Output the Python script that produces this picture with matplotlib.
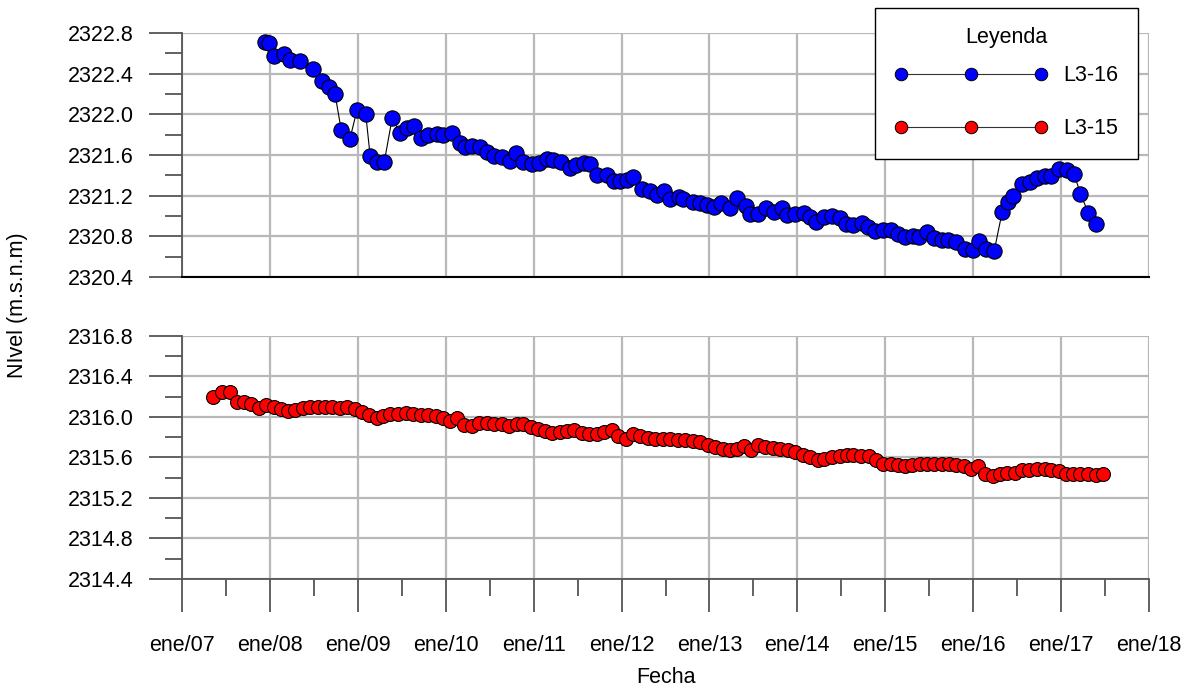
import matplotlib
matplotlib.use("Agg")
import matplotlib.pyplot as plt
from matplotlib.lines import Line2D
from matplotlib.ticker import MultipleLocator, FixedLocator

plt.rcParams['font.family'] = ['Liberation Sans', 'DejaVu Sans']

# Piezometro L3-16 (fecha en anos decimales, nivel en m.s.n.m)
fecha_l316 = [2007.94, 2007.99, 2008.05, 2008.16, 2008.23, 2008.34, 2008.49, 2008.59, 2008.67, 2008.74,
              2008.81, 2008.91, 2008.99, 2009.09, 2009.14, 2009.22, 2009.30, 2009.39, 2009.48, 2009.56,
              2009.64, 2009.72, 2009.80, 2009.90, 2009.97, 2010.07, 2010.16, 2010.22, 2010.30, 2010.39,
              2010.47, 2010.55, 2010.64, 2010.73, 2010.80, 2010.88, 2010.98, 2011.06, 2011.15, 2011.22,
              2011.31, 2011.41, 2011.48, 2011.57, 2011.64, 2011.72, 2011.83, 2011.91, 2011.98, 2012.06,
              2012.13, 2012.23, 2012.32, 2012.40, 2012.48, 2012.55, 2012.65, 2012.70, 2012.81, 2012.89,
              2012.97, 2013.05, 2013.13, 2013.23, 2013.31, 2013.41, 2013.46, 2013.55, 2013.64, 2013.73,
              2013.82, 2013.88, 2013.97, 2014.07, 2014.14, 2014.21, 2014.30, 2014.39, 2014.48, 2014.55,
              2014.63, 2014.73, 2014.80, 2014.88, 2014.97, 2015.07, 2015.15, 2015.23, 2015.32, 2015.38,
              2015.48, 2015.56, 2015.64, 2015.71, 2015.81, 2015.91, 2016.00, 2016.07, 2016.15, 2016.24,
              2016.33, 2016.40, 2016.45, 2016.56, 2016.65, 2016.73, 2016.82, 2016.89, 2016.98, 2017.07,
              2017.15, 2017.22, 2017.31, 2017.40]
nivel_l316 = [2322.71, 2322.70, 2322.57, 2322.59, 2322.53, 2322.52, 2322.45, 2322.33, 2322.27, 2322.20,
              2321.85, 2321.76, 2322.04, 2322.00, 2321.59, 2321.53, 2321.53, 2321.96, 2321.82, 2321.87,
              2321.89, 2321.77, 2321.80, 2321.81, 2321.80, 2321.82, 2321.72, 2321.68, 2321.69, 2321.68,
              2321.63, 2321.59, 2321.58, 2321.54, 2321.62, 2321.53, 2321.51, 2321.52, 2321.56, 2321.55,
              2321.53, 2321.47, 2321.50, 2321.52, 2321.51, 2321.40, 2321.40, 2321.34, 2321.34, 2321.35,
              2321.38, 2321.27, 2321.25, 2321.21, 2321.25, 2321.17, 2321.19, 2321.17, 2321.14, 2321.13,
              2321.11, 2321.09, 2321.13, 2321.08, 2321.18, 2321.10, 2321.02, 2321.02, 2321.08, 2321.04,
              2321.08, 2321.01, 2321.02, 2321.03, 2320.99, 2320.94, 2320.99, 2321.00, 2320.98, 2320.92,
              2320.91, 2320.93, 2320.89, 2320.85, 2320.86, 2320.86, 2320.82, 2320.79, 2320.80, 2320.79,
              2320.84, 2320.78, 2320.76, 2320.76, 2320.74, 2320.68, 2320.67, 2320.75, 2320.68, 2320.66,
              2321.04, 2321.14, 2321.20, 2321.31, 2321.33, 2321.37, 2321.39, 2321.39, 2321.46, 2321.45,
              2321.41, 2321.22, 2321.03, 2320.92]

# Piezometro L3-15
fecha_l315 = [2007.35, 2007.45, 2007.55, 2007.62, 2007.71, 2007.79, 2007.87, 2007.96, 2008.05, 2008.13,
              2008.21, 2008.29, 2008.38, 2008.46, 2008.55, 2008.63, 2008.71, 2008.80, 2008.88, 2008.97,
              2009.05, 2009.13, 2009.22, 2009.29, 2009.37, 2009.46, 2009.55, 2009.63, 2009.72, 2009.80,
              2009.89, 2009.97, 2010.05, 2010.13, 2010.21, 2010.30, 2010.38, 2010.47, 2010.55, 2010.64,
              2010.72, 2010.81, 2010.88, 2010.97, 2011.05, 2011.13, 2011.21, 2011.30, 2011.38, 2011.46,
              2011.55, 2011.63, 2011.72, 2011.80, 2011.89, 2011.96, 2012.05, 2012.13, 2012.21, 2012.30,
              2012.38, 2012.47, 2012.55, 2012.64, 2012.72, 2012.81, 2012.89, 2012.98, 2013.06, 2013.15,
              2013.23, 2013.31, 2013.39, 2013.47, 2013.55, 2013.63, 2013.72, 2013.80, 2013.89, 2013.97,
              2014.06, 2014.14, 2014.23, 2014.30, 2014.39, 2014.48, 2014.56, 2014.63, 2014.72, 2014.81,
              2014.89, 2014.97, 2015.06, 2015.15, 2015.23, 2015.30, 2015.39, 2015.47, 2015.56, 2015.64,
              2015.73, 2015.81, 2015.90, 2015.97, 2016.06, 2016.14, 2016.22, 2016.31, 2016.39, 2016.48,
              2016.55, 2016.64, 2016.73, 2016.82, 2016.89, 2016.98, 2017.06, 2017.14, 2017.22, 2017.31,
              2017.40, 2017.48]
nivel_l315 = [2316.20, 2316.25, 2316.25, 2316.15, 2316.15, 2316.13, 2316.09, 2316.12, 2316.10, 2316.08,
              2316.06, 2316.07, 2316.09, 2316.10, 2316.10, 2316.10, 2316.10, 2316.09, 2316.10, 2316.08,
              2316.05, 2316.02, 2315.99, 2316.01, 2316.03, 2316.03, 2316.04, 2316.03, 2316.02, 2316.02,
              2316.01, 2315.99, 2315.96, 2315.99, 2315.92, 2315.91, 2315.94, 2315.94, 2315.93, 2315.93,
              2315.91, 2315.93, 2315.93, 2315.90, 2315.88, 2315.86, 2315.84, 2315.85, 2315.86, 2315.87,
              2315.84, 2315.83, 2315.83, 2315.85, 2315.87, 2315.81, 2315.78, 2315.83, 2315.81, 2315.79,
              2315.78, 2315.78, 2315.78, 2315.77, 2315.77, 2315.76, 2315.75, 2315.72, 2315.70, 2315.68,
              2315.67, 2315.68, 2315.71, 2315.67, 2315.72, 2315.70, 2315.69, 2315.68, 2315.67, 2315.65,
              2315.62, 2315.60, 2315.58, 2315.59, 2315.60, 2315.61, 2315.62, 2315.62, 2315.61, 2315.61,
              2315.58, 2315.54, 2315.54, 2315.53, 2315.52, 2315.53, 2315.54, 2315.54, 2315.54, 2315.54,
              2315.54, 2315.53, 2315.52, 2315.49, 2315.52, 2315.44, 2315.42, 2315.44, 2315.45, 2315.45,
              2315.48, 2315.48, 2315.49, 2315.49, 2315.48, 2315.47, 2315.44, 2315.44, 2315.44, 2315.44,
              2315.43, 2315.44]

anios = list(range(2007, 2019))
etiquetas_x = ['ene/%02d' % (a % 100) for a in anios]

FS = 15.5
GRIS = '#555555'
GRID = '#b8b8b8'

fig = plt.figure(figsize=(11.93, 6.86), dpi=100)
ax1 = fig.add_axes([0.1526, 0.5962, 0.8105, 0.3557])
ax2 = fig.add_axes([0.1526, 0.1560, 0.8105, 0.3542])


def estilo(ax, ymin, ymax, abajo):
    ax.set_xlim(2007, 2018)
    ax.set_ylim(ymin, ymax)
    ax.yaxis.set_major_locator(MultipleLocator(0.4))
    ax.yaxis.set_minor_locator(MultipleLocator(0.2))
    ax.yaxis.set_major_formatter(plt.FormatStrFormatter('%.1f'))
    ax.xaxis.set_major_locator(FixedLocator(anios))
    ax.grid(True, which='major', color=GRID, lw=1.6, zorder=0)
    for s in ['top', 'right']:
        ax.spines[s].set_visible(False)
    ax.spines['left'].set_color(GRIS)
    ax.spines['left'].set_linewidth(1.3)
    ax.tick_params(axis='y', which='major', direction='out', length=24, width=1.3,
                   color=GRIS, labelsize=FS, pad=11)
    ax.tick_params(axis='y', which='minor', direction='out', length=12, width=1.3, color=GRIS)
    if abajo:
        ax.xaxis.set_minor_locator(FixedLocator([a + 0.5 for a in anios[:-1]]))
        ax.set_xticklabels(etiquetas_x)
        ax.spines['bottom'].set_color(GRIS)
        ax.spines['bottom'].set_linewidth(1.3)
        ax.tick_params(axis='x', which='major', direction='out', length=24, width=1.3,
                       color=GRIS, labelsize=FS, pad=16)
        ax.tick_params(axis='x', which='minor', direction='out', length=12, width=1.3, color=GRIS)
    else:
        ax.spines['bottom'].set_color('black')
        ax.spines['bottom'].set_linewidth(1.5)
        ax.tick_params(axis='x', which='both', length=0, labelbottom=False)


estilo(ax1, 2320.4, 2322.8, False)
estilo(ax2, 2314.4, 2316.8, True)

ax1.plot(fecha_l316, nivel_l316, '-', color='black', lw=0.8, marker='o', ms=11,
         mfc='#0000ff', mec='black', mew=0.8, zorder=3, clip_on=False)
ax2.plot(fecha_l315, nivel_l315, '-', color='black', lw=0.8, marker='o', ms=10,
         mfc='#ff0000', mec='black', mew=0.8, zorder=3, clip_on=False)

ax2.set_xlabel('Fecha', fontsize=FS, labelpad=8)
fig.text(0.015, 0.555, 'NIvel (m.s.n.m)', rotation=90, fontsize=FS, ha='center', va='center')

h1 = Line2D([], [], color='#333333', lw=0.8, marker='o', ms=9, mfc='#0000ff', mec='black', mew=0.7)
h2 = Line2D([], [], color='#333333', lw=0.8, marker='o', ms=9, mfc='#ff0000', mec='black', mew=0.7)
leg = fig.legend([h1, h2], ['L3-16', 'L3-15'], title='Leyenda', loc='upper right',
                 bbox_to_anchor=(1138 / 1193, 1 - 8 / 686), numpoints=3, fontsize=FS,
                 title_fontsize=FS, handlelength=7.1, handletextpad=0.75, labelspacing=1.5,
                 borderpad=0.9, fancybox=False, framealpha=1, edgecolor='black', borderaxespad=0)
leg.get_frame().set_linewidth(1.0)
leg._legend_box.sep = 12

fig.savefig('out.png', dpi=100)
